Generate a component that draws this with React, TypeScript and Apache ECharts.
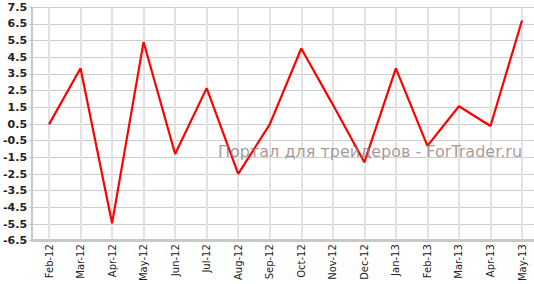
import React, { useEffect, useRef } from "react";
import * as echarts from "echarts";

const categories = ["Feb-12", "Mar-12", "Apr-12", "May-12", "Jun-12", "Jul-12", "Aug-12", "Sep-12", "Oct-12", "Nov-12", "Dec-12", "Jan-13", "Feb-13", "Mar-13", "Apr-13", "May-13"];
const values = [0.4, 3.8, -5.6, 5.4, -1.4, 2.6, -2.6, 0.4, 5.0, 1.6, -1.9, 3.8, -0.9, 1.5, 0.3, 6.7];
const yMin = -6.5;
const yMax = 7.5;
const yStep = 1;
const watermark = "Портал для трейдеров - ForTrader.ru";

export default function App() {
  const ref = useRef<HTMLDivElement>(null);
  useEffect(() => {
    if (!ref.current) return;
    const chart = echarts.init(ref.current, null, { renderer: "svg" });
    const top = 7.3;
    const bottom = 43.3;
    chart.setOption({
      animation: false,
      grid: [
        { left: 32, right: 0, top, bottom },
        { left: 49, right: 12, top, bottom },
      ],
      xAxis: [
        {
          gridIndex: 0,
          type: "value",
          min: 0,
          max: 1,
          axisLine: { show: true, onZero: false, lineStyle: { color: "#c8c8c8", width: 3 } },
          axisTick: { show: false },
          axisLabel: { show: false },
          splitLine: { show: false },
        },
        {
          gridIndex: 1,
          type: "category",
          data: categories,
          boundaryGap: false,
          axisLine: { show: false, onZero: false },
          axisTick: { show: true, length: 3, inside: false, lineStyle: { color: "#c8c8c8", width: 1 } },
          axisLabel: {
            rotate: 90,
            interval: 0,
            margin: 6,
            fontFamily: "DejaVu Sans",
            fontSize: 10,
            color: "#222",
          },
          splitLine: { show: true, lineStyle: { color: "#e2e2e2", width: 2 } },
        },
      ],
      yAxis: [
        {
          gridIndex: 0,
          type: "value",
          min: yMin,
          max: yMax,
          interval: yStep,
          axisLine: { show: true, onZero: false, lineStyle: { color: "#c8c8c8", width: 2 } },
          axisTick: { show: true, length: 3, lineStyle: { color: "#c8c8c8" } },
          axisLabel: {
            margin: 5,
            fontFamily: "DejaVu Sans",
            fontSize: 11,
            fontWeight: "bold",
            color: "#222",
            formatter: (v: number) => v.toFixed(1),
          },
          splitLine: { show: true, lineStyle: { color: "#cccccc", width: 1 } },
        },
        {
          gridIndex: 1,
          type: "value",
          min: yMin,
          max: yMax,
          interval: yStep,
          show: false,
          splitLine: { show: false },
        },
      ],
      graphic: [
        {
          type: "text",
          left: 218,
          top: 143,
          z: 100,
          style: {
            text: watermark,
            fontFamily: "DejaVu Sans",
            fontSize: 16,
            fill: "rgba(140,120,120,0.75)",
          },
        },
      ],
      series: [
        {
          type: "line",
          xAxisIndex: 1,
          yAxisIndex: 1,
          data: values,
          symbol: "none",
          lineStyle: { color: "#ff0000", width: 2.2 },
        },
      ],
    });
    return () => chart.dispose();
  }, []);
  return <div ref={ref} style={{ width: 534, height: 284, position: "absolute", left: 0, top: 0, background: "#fff" }} />;
}
